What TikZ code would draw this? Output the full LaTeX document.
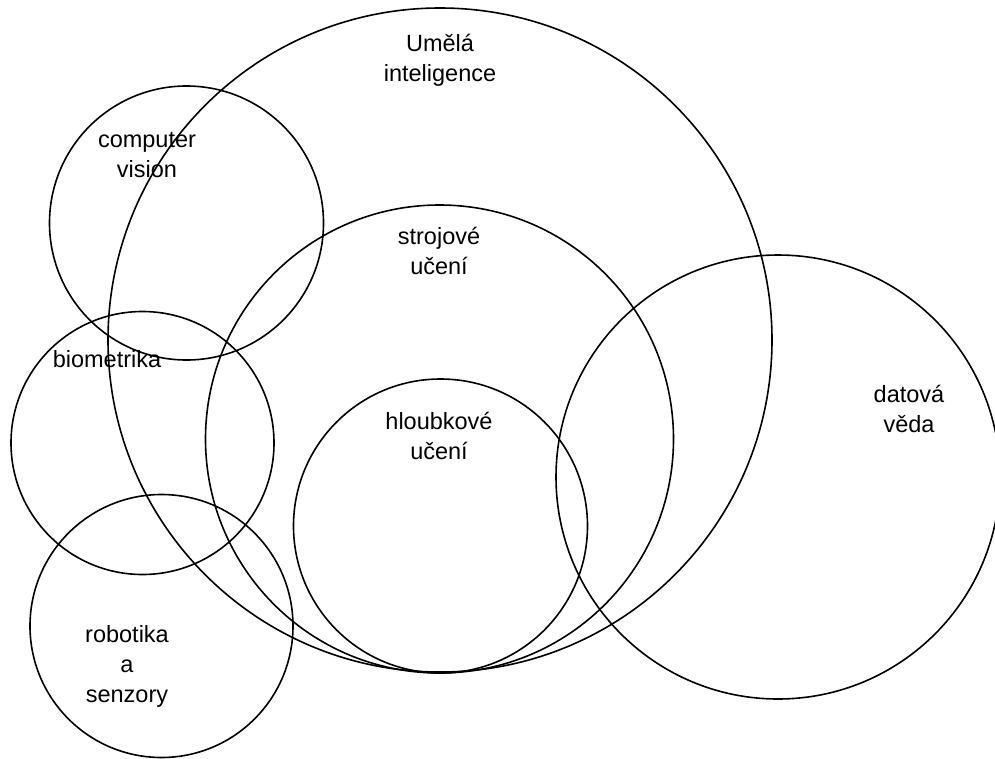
\documentclass[tikz,border=0pt]{standalone}
\usepackage{fontspec}
\setmainfont{Liberation Sans}
\usepackage{tikz}
\tikzset{vset/.style={line width=1.6pt, draw=black},
    vlbl/.style={align=center, inner sep=0pt, font=\fontsize{23.5}{30}\selectfont}}

\begin{document}
\begin{tikzpicture}[x=1pt, y=-1pt]
                        \useasboundingbox (0, 0) rectangle (995, 758);
                        \begin{scope}
                            \clip (0, 0) rectangle (995, 758);
                            \draw[vset] (440, 340) circle (332);
                            \draw[vset] (439.5, 439) circle (234);
                            \draw[vset] (440.5, 526) circle (147);
                            \draw[vset] (778, 477) circle (222);
                            \draw[vset] (186.5, 223) circle (137);
                            \draw[vset] (142.5, 443) circle (131.5);
                            \draw[vset] (161.5, 626) circle (131.5);
                        \end{scope}
                        \node[vlbl] (ai) at (440, 60.5) {Umělá\\inteligence};
                        \node[vlbl] (cv) at (147, 155) {computer\\vision};
                        \node[vlbl] (ml) at (439, 251) {strojové\\učení};
                        \node[vlbl] (bio) at (107, 359.5) {biometrika};
                        \node[vlbl] (dl) at (439, 436) {hloubkové\\učení};
                        \node[vlbl] (ds) at (909, 409) {datová\\věda};
                        \node[vlbl] (rob) at (127, 666) {robotika\\a\\senzory};
                    \end{tikzpicture}
\end{document}
